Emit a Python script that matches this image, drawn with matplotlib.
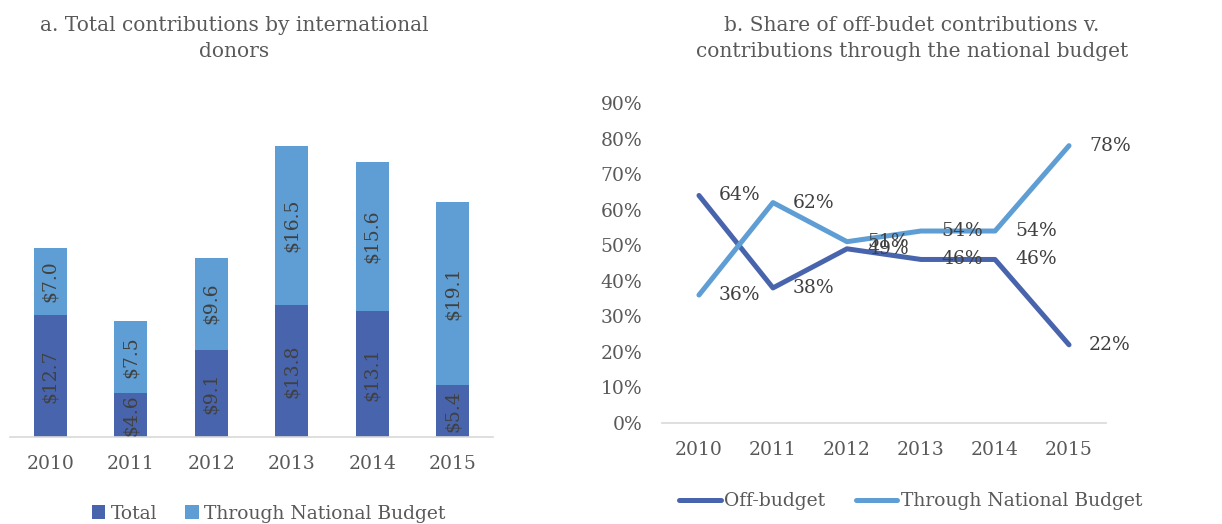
import matplotlib.pyplot as plt
import numpy as np
from matplotlib.ticker import PercentFormatter

# Datos
years = ["2010", "2011", "2012", "2013", "2014", "2015"]
total = [12.7, 4.6, 9.1, 13.8, 13.1, 5.4]
through_nb = [7.0, 7.5, 9.6, 16.5, 15.6, 19.1]
off_budget_share = [64, 38, 49, 46, 46, 22]
through_share = [36, 62, 51, 54, 54, 78]

dark = "#4864AC"
light = "#5E9ED4"
txt = "#404040"
grey = "#595959"

plt.rcParams["font.family"] = ["DejaVu Serif"]

fig = plt.figure(figsize=(12.22, 5.24), dpi=100)

# Panel a
ax1 = fig.add_axes([0.0082, 0.166, 0.3952, 0.641])
x = np.arange(len(years))
b1 = ax1.bar(x, total, width=0.41, color=dark, label="Total")
b2 = ax1.bar(x, through_nb, width=0.41, bottom=total, color=light,
             label="Through National Budget")
for i in range(len(years)):
    ax1.text(x[i], total[i] / 2, f"${total[i]:.1f}", rotation=90,
             ha="center", va="center", fontsize=13.5, color=txt)
    ax1.text(x[i], total[i] + through_nb[i] / 2, f"${through_nb[i]:.1f}",
             rotation=90, ha="center", va="center", fontsize=13.5, color=txt)
ax1.set_xlim(-0.5, 5.5)
ax1.set_ylim(0, 35)
ax1.set_xticks(x)
ax1.set_xticklabels(years, fontsize=13.5, color=grey)
ax1.tick_params(axis="x", length=0, pad=13)
ax1.set_yticks([])
for s in ["top", "right", "left"]:
    ax1.spines[s].set_visible(False)
ax1.spines["bottom"].set_color("#D9D9D9")
ax1.spines["bottom"].set_linewidth(1.2)
fig.text(234 / 1222, 0.9265, "a. Total contributions by international\ndonors",
         ha="center", va="center", fontsize=14.5, color=grey, linespacing=1.5)
fig.legend(handles=[b1, b2], loc="center", bbox_to_anchor=(0.22, 0.02),
           ncol=2, frameon=False, fontsize=13.5, labelcolor=grey,
           handlelength=0.7, handleheight=0.7, handletextpad=0.3,
           columnspacing=1.5)

# Panel b
ax2 = fig.add_axes([0.5417, 0.1927, 0.3634, 0.6107])
ax2.plot(x, off_budget_share, color=dark, lw=3.6, label="Off-budget",
         solid_capstyle="round")
ax2.plot(x, through_share, color=light, lw=3.6,
         label="Through National Budget", solid_capstyle="round")
for i in range(len(years)):
    ax2.text(x[i] + 0.27, off_budget_share[i], f"{off_budget_share[i]}%",
             ha="left", va="center", fontsize=13.5, color=txt, clip_on=False)
    ax2.text(x[i] + 0.27, through_share[i], f"{through_share[i]}%",
             ha="left", va="center", fontsize=13.5, color=txt, clip_on=False)
ax2.set_xlim(-0.5, 5.5)
ax2.set_ylim(0, 90)
ax2.set_yticks(range(0, 91, 10))
ax2.yaxis.set_major_formatter(PercentFormatter(decimals=0))
ax2.set_xticks(x)
ax2.set_xticklabels(years)
ax2.tick_params(axis="both", length=0, labelsize=13.5, labelcolor=grey)
ax2.tick_params(axis="x", pad=13)
ax2.tick_params(axis="y", pad=14)
for s in ["top", "right", "left"]:
    ax2.spines[s].set_visible(False)
ax2.spines["bottom"].set_color("#D9D9D9")
ax2.spines["bottom"].set_linewidth(1.2)
fig.text(912 / 1222, 0.9265,
         "b. Share of off-budet contributions v.\ncontributions through the national budget",
         ha="center", va="center", fontsize=14.5, color=grey, linespacing=1.5)
ax2.legend(loc="center", bbox_to_anchor=(0.56, -0.245), ncol=2, frameon=False,
           fontsize=13.5, labelcolor=grey, handlelength=2.2, handletextpad=0.2,
           columnspacing=1.6)

fig.savefig("out.png", dpi=100)
